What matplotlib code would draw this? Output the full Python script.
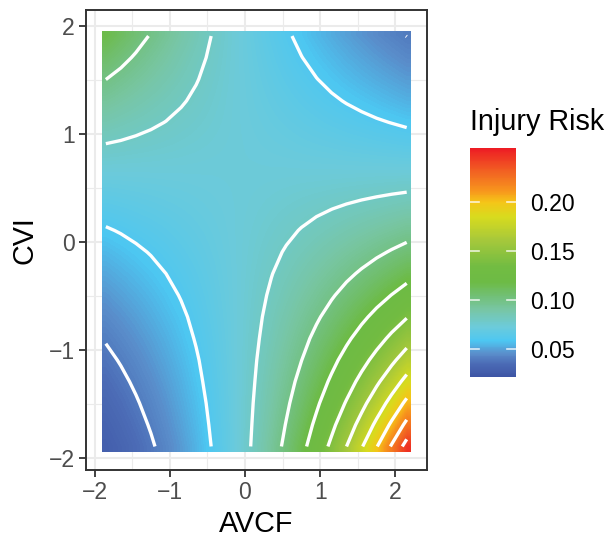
import numpy as np
import matplotlib
matplotlib.use("Agg")
import matplotlib.pyplot as plt
from matplotlib.colors import LinearSegmentedColormap
from matplotlib.patches import Rectangle


# grid: AVCF columns, CVI rows
avcf = [-1.85, -1.65, -1.45, -1.25, -1.05, -0.85, -0.65, -0.45, -0.25, -0.05, 0.15,
        0.35, 0.55, 0.75, 0.95, 1.15, 1.35, 1.55, 1.75, 1.95, 2.15]
cvi = [-1.89, -1.69, -1.49, -1.29, -1.09, -0.89, -0.69, -0.49, -0.29, -0.09,
       0.11, 0.31, 0.51, 0.71, 0.91, 1.11, 1.31, 1.51, 1.71, 1.91]

# injury risk x 10000, one row per CVI value (bottom to top)
risk_x1e4 = [
    [280, 312, 348, 388, 433, 482, 538, 600, 669, 746, 832, 928, 1035, 1154, 1287, 1435, 1600, 1785, 1990, 2219, 2475],
    [301, 333, 369, 408, 451, 498, 551, 609, 673, 745, 823, 910, 1007, 1113, 1231, 1361, 1504, 1663, 1839, 2033, 2248],
    [325, 356, 391, 428, 469, 515, 564, 618, 678, 743, 815, 893, 979, 1073, 1177, 1290, 1414, 1550, 1700, 1863, 2043],
    [350, 381, 414, 450, 489, 531, 578, 628, 682, 742, 806, 876, 952, 1035, 1125, 1223, 1329, 1445, 1571, 1707, 1856],
    [378, 407, 438, 473, 509, 549, 591, 637, 687, 740, 798, 860, 926, 998, 1076, 1160, 1250, 1347, 1451, 1564, 1686],
    [407, 435, 465, 496, 530, 567, 606, 647, 691, 739, 789, 843, 901, 963, 1029, 1099, 1175, 1255, 1341, 1433, 1531],
    [439, 465, 492, 522, 553, 585, 620, 657, 696, 737, 781, 828, 877, 929, 984, 1042, 1104, 1170, 1239, 1313, 1391],
    [473, 497, 522, 548, 576, 605, 635, 667, 701, 736, 773, 812, 853, 896, 941, 988, 1038, 1090, 1145, 1203, 1264],
    [510, 531, 553, 576, 600, 624, 650, 677, 705, 734, 765, 797, 830, 864, 900, 937, 976, 1016, 1058, 1102, 1148],
    [549, 567, 586, 605, 624, 645, 666, 688, 710, 733, 757, 782, 807, 833, 860, 888, 917, 947, 978, 1010, 1043],
    [592, 606, 621, 635, 650, 666, 682, 698, 715, 732, 749, 767, 785, 804, 823, 842, 862, 883, 904, 925, 947],
    [638, 648, 658, 668, 678, 688, 698, 709, 719, 730, 741, 752, 764, 775, 787, 799, 811, 823, 835, 848, 861],
    [688, 692, 697, 701, 706, 710, 715, 719, 724, 729, 733, 738, 743, 748, 752, 757, 762, 767, 772, 777, 782],
    [742, 740, 738, 737, 735, 734, 732, 730, 729, 727, 726, 724, 723, 721, 719, 718, 716, 715, 713, 712, 710],
    [799, 791, 782, 774, 766, 758, 750, 742, 734, 726, 718, 710, 703, 695, 688, 681, 673, 666, 659, 652, 645],
    [862, 845, 829, 813, 798, 782, 768, 753, 739, 724, 711, 697, 684, 671, 658, 645, 633, 621, 609, 598, 586],
    [929, 903, 878, 854, 831, 808, 786, 764, 743, 723, 703, 684, 665, 647, 629, 612, 595, 579, 563, 547, 532],
    [1001, 965, 931, 898, 866, 835, 805, 776, 748, 722, 696, 671, 647, 624, 602, 580, 559, 539, 520, 502, 484],
    [1079, 1032, 986, 943, 902, 862, 824, 788, 753, 720, 689, 658, 629, 602, 575, 550, 526, 503, 481, 460, 439],
    [1163, 1102, 1045, 991, 939, 890, 844, 800, 758, 719, 681, 646, 612, 580, 550, 522, 494, 469, 444, 421, 399],
]

contour_levels = [0.02, 0.04, 0.06, 0.08, 0.10, 0.12, 0.14, 0.16, 0.18, 0.20, 0.22, 0.24, 0.26]
legend_ticks = [0.05, 0.10, 0.15, 0.20]
legend_labels = ["0.05", "0.10", "0.15", "0.20"]
x_ticks = [-2, -1, 0, 1, 2]
y_ticks = [-2, -1, 0, 1, 2]

risk_min, risk_max = 0.0214, 0.255
stops = [0.0214, 0.035, 0.045, 0.058, 0.072, 0.090, 0.105, 0.118, 0.134, 0.161, 0.185, 0.200, 0.212, 0.230, 0.255]
colours = ["#3E55A5", "#4C6CB6", "#5A8ECB", "#4DC7F2", "#6CCBDB", "#78C6A4", "#71BF72", "#6DBB45", "#72BC42",
           "#A6C83B", "#D8DB1E", "#F5C518", "#F7941D", "#F26522", "#ED1C24"]

risk = np.array(risk_x1e4) / 10000

plt.rcParams["font.family"] = ["Liberation Sans", "DejaVu Sans"]
fig = plt.figure(figsize=(6.06, 5.38), dpi=100)
ax = fig.add_axes([86 / 606, 68 / 538, 341 / 606, 460 / 538])

pos = [(s - risk_min) / (risk_max - risk_min) for s in stops]
cmap = LinearSegmentedColormap.from_list("risk", list(zip(pos, colours)))
half = 0.1
im = ax.imshow(risk, origin="lower", extent=(avcf[0] - half, avcf[-1] + half, cvi[0] - half, cvi[-1] + half),
               cmap=cmap, vmin=risk_min, vmax=risk_max, interpolation="bilinear", aspect="auto", zorder=2)
# raster tiles only reach half a tile past the outer grid points
im.set_clip_path(Rectangle((avcf[0] - 0.05, cvi[0] - 0.05), avcf[-1] - avcf[0] + 0.1, cvi[-1] - cvi[0] + 0.1,
                           transform=ax.transData))
ax.contour(avcf, cvi, risk, levels=contour_levels, colors="white", linewidths=2.4, zorder=3)

ax.set_xlim(-2.114, 2.42)
ax.set_ylim(-2.108, 2.151)
ax.set_xticks(x_ticks)
ax.set_yticks(y_ticks)
ax.set_xticks([-1.5, -0.5, 0.5, 1.5], minor=True)
ax.set_yticks([-1.5, -0.5, 0.5, 1.5], minor=True)
ax.grid(which="major", color="#EBEBEB", linewidth=1.5, zorder=0)
ax.grid(which="minor", color="#EBEBEB", linewidth=0.8, zorder=0)
ax.set_axisbelow(True)
ax.tick_params(which="major", length=5, width=1.3, color="#333333", labelsize=16.6, labelcolor="#4D4D4D", pad=3)
ax.tick_params(which="minor", length=0)
for s in ax.spines.values():
    s.set_color("#333333")
    s.set_linewidth(1.4)

fig.text(256.5 / 606, 6 / 538, "AVCF", ha="center", va="baseline", fontsize=20.7)
fig.text(33 / 606, (538 - 240) / 538, "CVI", ha="center", va="baseline", rotation=90,
         rotation_mode="anchor", fontsize=20.7)

cax = fig.add_axes([470 / 606, (538 - 377) / 538, 46 / 606, 229 / 538])
cb = fig.colorbar(im, cax=cax)
cb.outline.set_visible(False)
cb.set_ticks(legend_ticks)
cb.set_ticklabels(legend_labels)
cax.tick_params(length=0, pad=10, labelsize=16.6)
for t in legend_ticks:
    cax.plot([0, 0.2], [t, t], color="white", alpha=0.8, lw=1.2, transform=cax.get_yaxis_transform())
    cax.plot([0.8, 1], [t, t], color="white", alpha=0.8, lw=1.2, transform=cax.get_yaxis_transform())
fig.text(470 / 606, (538 - 130) / 538, "Injury Risk", ha="left", va="baseline", fontsize=20.7)

fig.savefig("out.png", dpi=100)
